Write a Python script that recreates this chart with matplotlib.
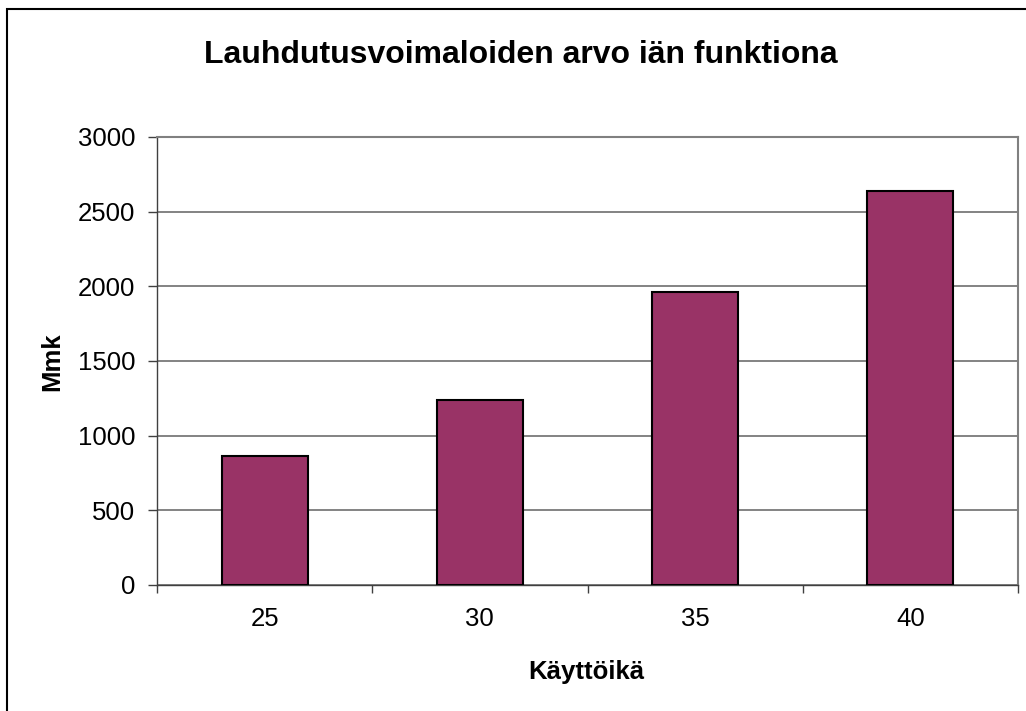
import matplotlib
matplotlib.use("Agg")
import matplotlib.pyplot as plt
from matplotlib.patches import Rectangle
import numpy as np

plt.rcParams['font.family'] = ['Liberation Sans', 'DejaVu Sans']

categories = ["25", "30", "35", "40"]
values = [866, 1242, 1963, 2636]
yticks = [0, 500, 1000, 1500, 2000, 2500, 3000]
title = "Lauhdutusvoimaloiden arvo iän funktiona"
xlabel = "Käyttöikä"
ylabel = "Mmk"

W, H = 1026, 711
fig = plt.figure(figsize=(W / 100, H / 100), dpi=100)
fig.patch.set_facecolor("white")

# outer chart border (only left/top visible in reference)
fig.patches.append(Rectangle((7 / W, -0.1), 1.2, (H - 9) / H + 0.1, transform=fig.transFigure,
                             fill=False, edgecolor="black", linewidth=1.5, zorder=0))

L, R, T, B = 157, 1018, 137, 585
ax = fig.add_axes([L / W, (H - B) / H, (R - L) / W, (B - T) / H])
x = np.arange(len(categories))
ax.bar(x, values, width=0.4, color="#993366", edgecolor="black", linewidth=1.5, zorder=3)
ax.set_xlim(-0.5, len(categories) - 0.5)
ax.set_ylim(0, 3000)
ax.set_yticks(yticks)
ax.set_yticklabels([str(v) for v in yticks], fontsize=18.5)
ax.set_xticks(x)
ax.set_xticklabels(categories, fontsize=18.5)
ax.tick_params(axis="x", length=0, pad=16)
ax.set_xticks(np.arange(-0.5, len(categories), 1.0), minor=True)
ax.tick_params(axis="x", which="minor", length=6, width=1, color="#404040", direction="out")
ax.tick_params(axis="y", length=6.5, width=1, color="#404040", direction="out", pad=9)
ax.yaxis.grid(True, color="#6e6e6e", linewidth=1.2, zorder=0)
ax.set_axisbelow(True)
for s in ["top", "right"]:
    ax.spines[s].set_color("#808080")
    ax.spines[s].set_linewidth(1.5)
ax.spines["left"].set_color("#404040")
ax.spines["bottom"].set_color("#404040")
ax.spines["left"].set_linewidth(1)
ax.spines["bottom"].set_linewidth(1)

fig.text(521 / W, 1 - 63 / H, title, fontsize=23, fontweight="bold", ha="center", va="baseline")
fig.text(586 / W, 1 - 679 / H, xlabel, fontsize=18.5, fontweight="bold", ha="center", va="baseline")
fig.text(59 / W, 1 - 361.5 / H, ylabel, fontsize=18.5, fontweight="bold", ha="center", va="baseline",
         rotation=90, rotation_mode="anchor")

fig.savefig("out.png", dpi=100)
